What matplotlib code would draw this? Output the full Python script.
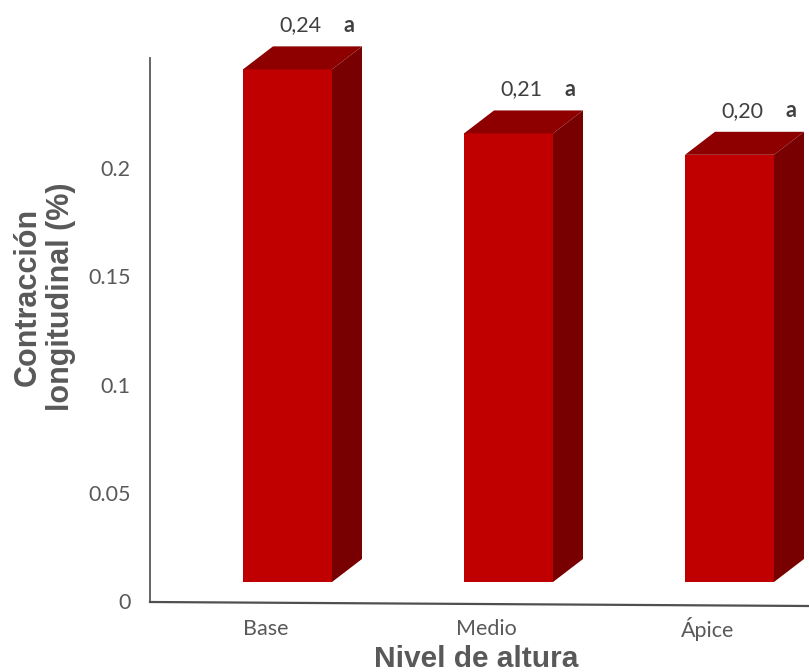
import matplotlib
matplotlib.use("Agg")
import matplotlib.pyplot as plt
from matplotlib.patches import Polygon
import numpy as np

# Data
categories = ["Base", "Medio", "Ápice"]
values = [0.24, 0.21, 0.20]
letters = ["a", "a", "a"]
ytick_values = [0, 0.05, 0.1, 0.15, 0.2]
ytick_labels = ["0", "0.05", "0.1", "0.15", "0.2"]

W, H = 809, 672
fig = plt.figure(figsize=(W / 100, H / 100), dpi=100)
fig.patch.set_facecolor("white")

def fx(px):
    return px / W

def fy(py):
    return 1 - py / H

TEXT = "#595959"
FRONT = "#C00000"
TOP = "#8E0000"
SIDE = "#780000"
FS = 15.5

# plot region in pixels
left_px, right_px, top_px, bottom_px = 150, 809, 20, 602
rect = [fx(left_px), fy(bottom_px), fx(right_px) - fx(left_px), fy(top_px) - fy(bottom_px)]

# value axis (back wall)
ax_val = fig.add_axes(rect)
val_zero_px, val_scale = 601, 2164.0
ax_val.set_ylim(-(bottom_px - val_zero_px) / val_scale, (val_zero_px - top_px) / val_scale)
ax_val.set_xlim(0, 1)
ax_val.set_xticks([])
ax_val.set_yticks(ytick_values)
ax_val.set_yticklabels(ytick_labels, family="Lato", fontsize=FS, color=TEXT)
ax_val.tick_params(axis="y", length=0, pad=14)
for s in ["top", "right", "bottom"]:
    ax_val.spines[s].set_visible(False)
ax_val.spines["left"].set_color("#595959")
ax_val.spines["left"].set_linewidth(1.3)
ax_val.spines["left"].set_bounds(ax_val.get_ylim()[0], (val_zero_px - 58) / val_scale)
ax_val.patch.set_alpha(0)

# bar axes (front plane)
ax = fig.add_axes(rect)
ax.set_axis_off()
ax.patch.set_alpha(0)
bar_zero_px, bar_scale = 582, 2136.0
ax.set_ylim(-(bottom_px - bar_zero_px) / bar_scale, (bar_zero_px - top_px) / bar_scale)
x0_px, step_px = 287.5, 221.0
ax.set_xlim((left_px - x0_px) / step_px, (right_px - x0_px) / step_px)

x = np.arange(len(categories))
width = 89 / step_px
depth_x = 30 / step_px
depth_y = 23 / bar_scale

ax.bar(x, values, width=width, color=FRONT, edgecolor="none", zorder=3)
for xi, v in zip(x, values):
    l, r = xi - width / 2, xi + width / 2
    top_face = Polygon([(l, v), (r, v), (r + depth_x, v + depth_y), (l + depth_x, v + depth_y)],
                       closed=True, facecolor=TOP, edgecolor="none", zorder=3)
    side_face = Polygon([(r, 0), (r + depth_x, depth_y), (r + depth_x, v + depth_y), (r, v)],
                        closed=True, facecolor=SIDE, edgecolor="none", zorder=3)
    ax.add_patch(top_face)
    ax.add_patch(side_face)

# floor line
ax.plot([0, 1], [0, -4 / 582], transform=ax.transAxes, color="#505050", lw=1.6,
        clip_on=False, zorder=2)

# category labels
for xi, cat in zip(x, categories):
    ax.annotate(cat, xy=(xi, 0), xycoords=("data", "axes fraction"),
                xytext=(-22 * 0.72, -27 * 0.72), textcoords="offset points",
                ha="center", va="center", fontsize=FS, family="Lato", color=TEXT)

# value labels with significance letters
for xi, v, let in zip(x, values, letters):
    ax.annotate(f"{v:.2f}".replace(".", ","), xy=(xi, v), xycoords="data",
                xytext=(13 * 0.72, 44 * 0.72), textcoords="offset points",
                ha="center", va="center", fontsize=FS, family="Lato", color="#404040")
    ax.annotate(let, xy=(xi, v), xycoords="data",
                xytext=(61 * 0.72, 44 * 0.72), textcoords="offset points",
                ha="center", va="center", fontsize=FS, family="Lato",
                fontweight="bold", color="#404040")

# axis titles
fig.text(fx(44), fy(297), "Contracción\nlongitudinal (%)", rotation=90,
         ha="center", va="center", fontsize=22, fontweight="bold",
         family="Liberation Sans", color=TEXT, linespacing=1.15)
fig.text(fx(476), fy(667), "Nivel de altura", ha="center", va="baseline",
         fontsize=21.5, fontweight="bold", family="Liberation Sans", color=TEXT)

fig.savefig("out.png", dpi=100, facecolor="white")
